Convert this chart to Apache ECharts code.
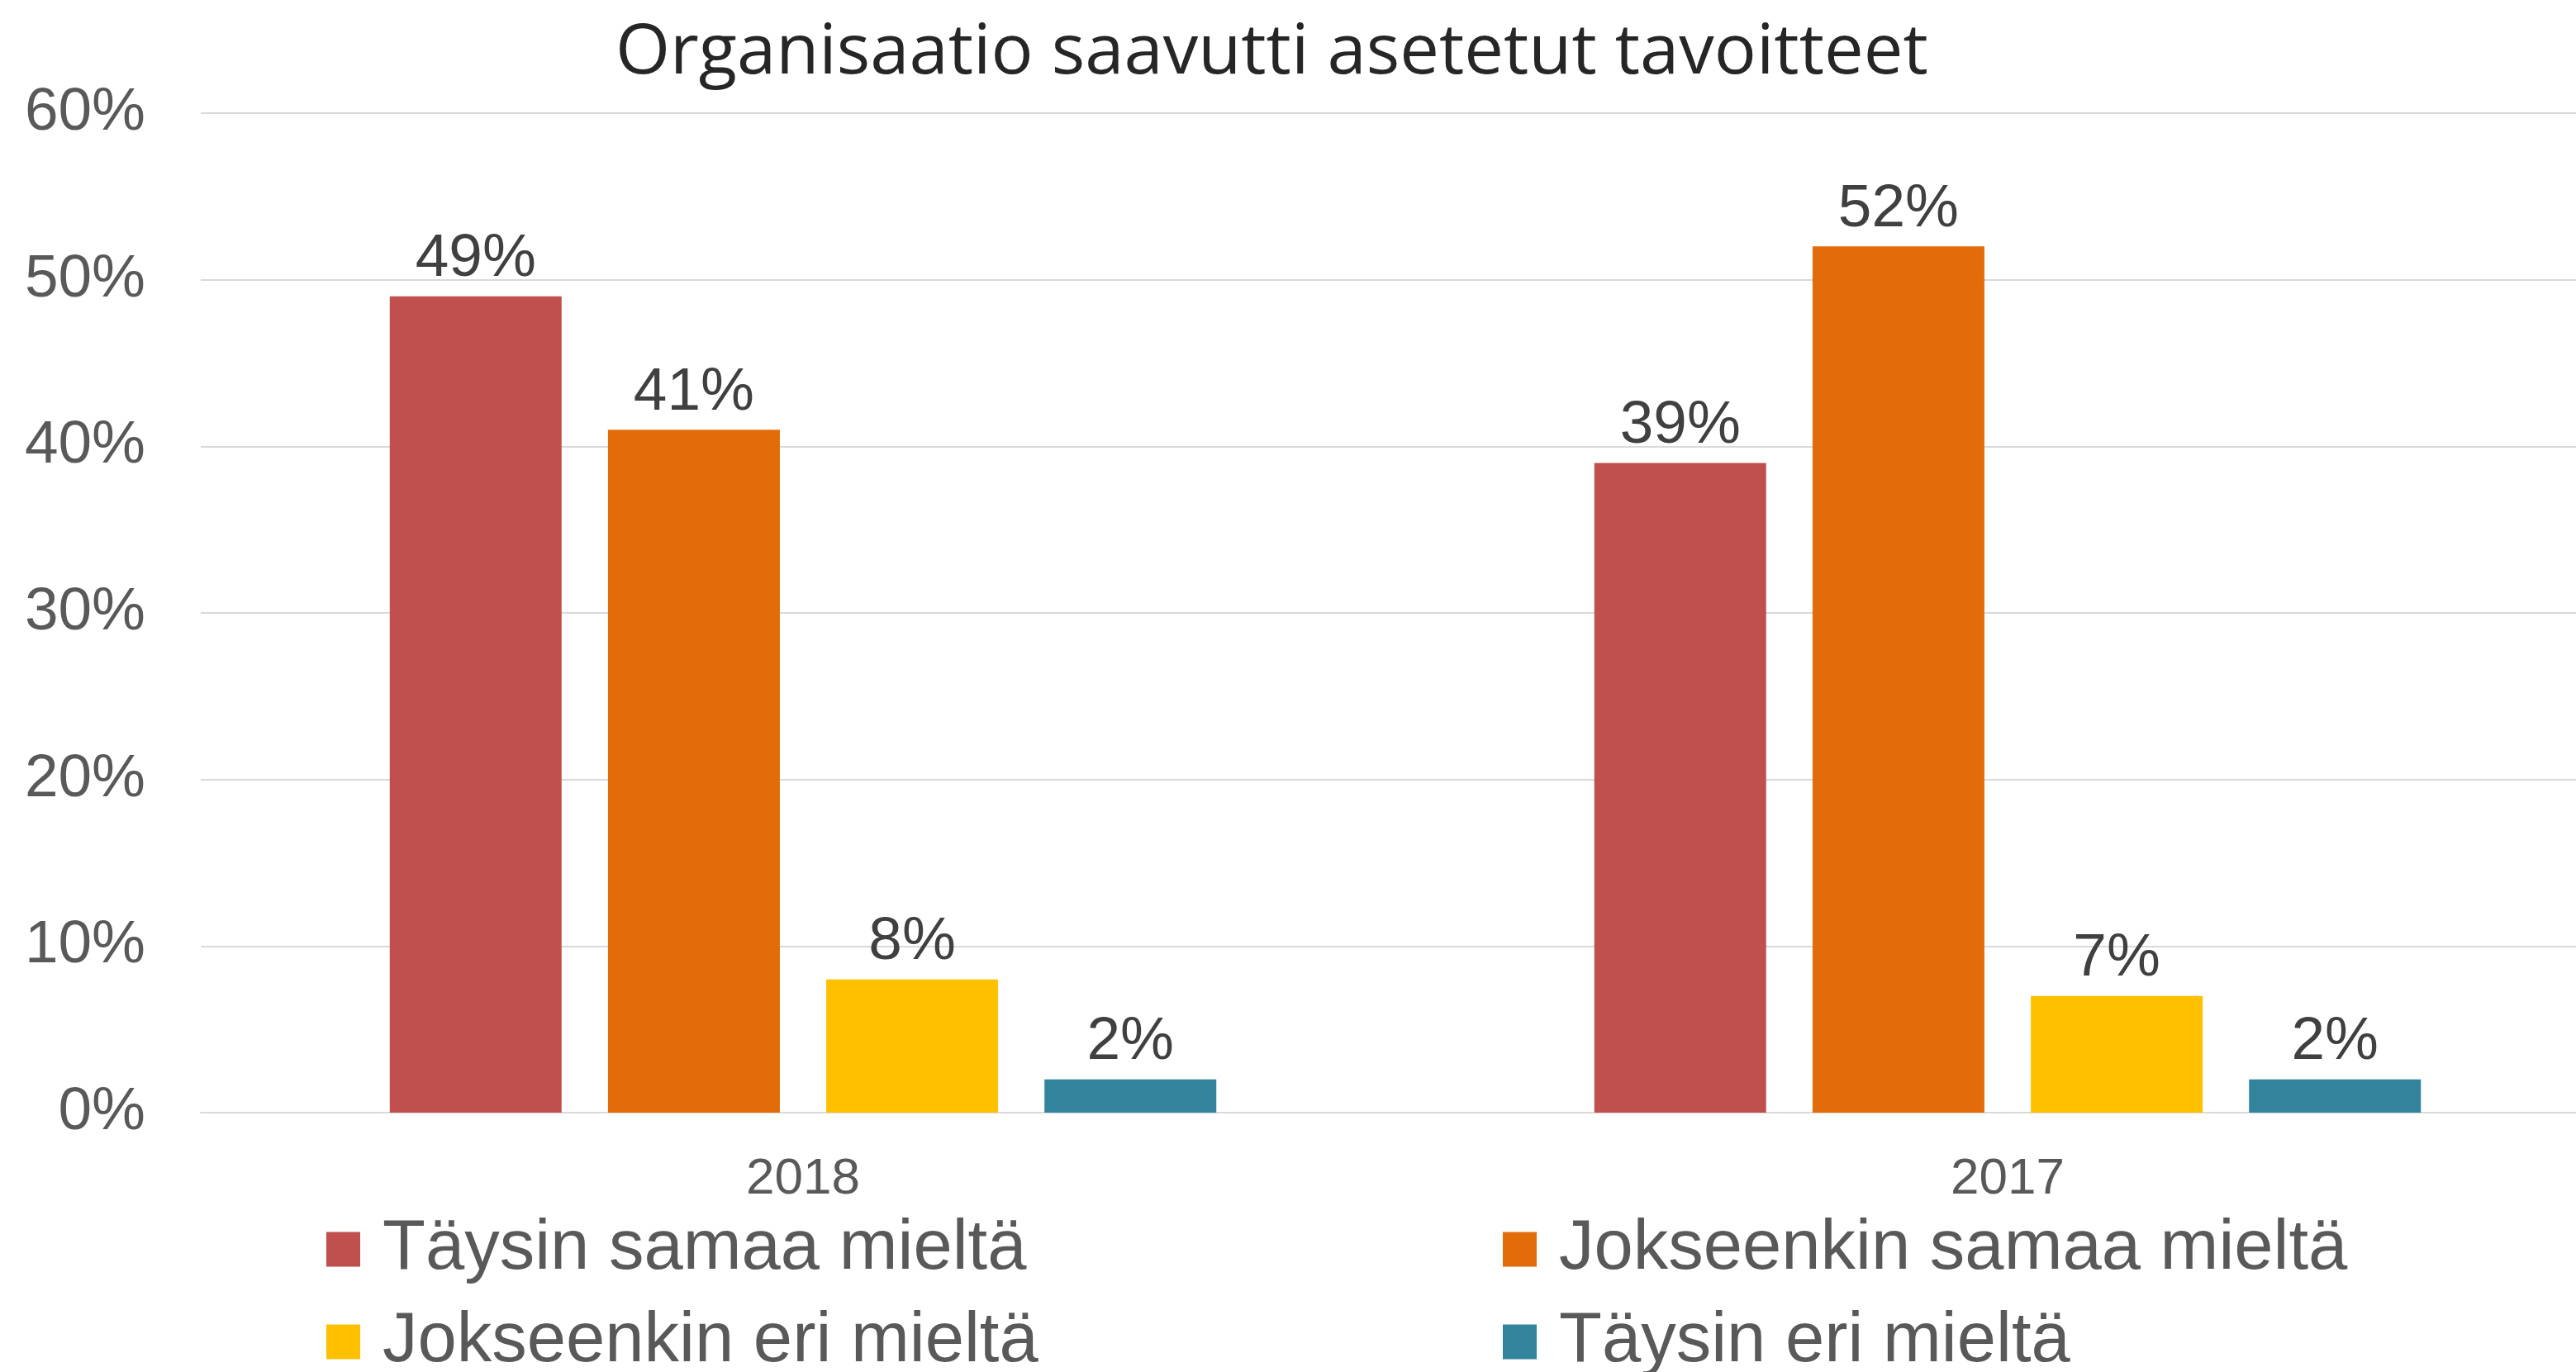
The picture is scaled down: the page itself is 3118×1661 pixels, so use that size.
<!DOCTYPE html>
<html>
<head>
<meta charset="utf-8">
<script src="https://cdn.jsdelivr.net/npm/echarts@6/dist/echarts.min.js"></script>
<style>
html,body{margin:0;padding:0;background:#fff;overflow:hidden;}
#chart{width:3118px;height:1661px;}
</style>
</head>
<body>
<div id="chart"></div>
<script>
const titleText = 'Organisaatio saavutti asetetut tavoitteet';
const categories = ['2018', '2017'];
const seriesNames = ['Täysin samaa mieltä', 'Jokseenkin samaa mieltä', 'Jokseenkin eri mieltä', 'Täysin eri mieltä'];
const taysinSamaa = [49, 39];
const jokseenkinSamaa = [41, 52];
const jokseenkinEri = [8, 7];
const taysinEri = [2, 2];
const colors = ['#C0504D', '#E36C0A', '#FFC000', '#31849B'];
const yTicks = { min: 0, max: 60, interval: 10 };

const values = [taysinSamaa, jokseenkinSamaa, jokseenkinEri, taysinEri];
const FONT = '"Liberation Sans", Arial, sans-serif';

const chart = echarts.init(document.getElementById('chart'), null, { renderer: 'canvas' });

const legendPos = [
  { left: 395, top: 1470 },
  { left: 1819, top: 1470 },
  { left: 395, top: 1582 },
  { left: 1819, top: 1582 }
];

const option = {
  backgroundColor: '#ffffff',
  animation: false,
  title: {
    text: titleText,
    left: 745,
    top: 22,
    padding: 0,
    textStyle: { fontFamily: '"Open Sans", sans-serif', fontSize: 85, fontWeight: 'normal', color: '#262626' }
  },
  legend: seriesNames.map((n, i) => ({
    data: [n],
    left: legendPos[i].left,
    top: legendPos[i].top,
    padding: 0,
    itemWidth: 41,
    itemHeight: 42,
    icon: 'rect',
    selectedMode: false,
    textStyle: { fontFamily: FONT, fontSize: 85, color: '#595959', padding: [0, 0, 0, 22] }
  })),
  grid: { left: 243, right: -41, top: 137, bottom: 314, containLabel: false, outerBoundsMode: 'none' },
  xAxis: {
    type: 'category',
    data: categories,
    axisLine: { show: true, lineStyle: { color: '#D9D9D9', width: 2 } },
    axisTick: { show: false },
    axisLabel: { fontFamily: FONT, fontSize: 62, color: '#595959', margin: 50 }
  },
  yAxis: {
    type: 'value',
    min: yTicks.min,
    max: yTicks.max,
    interval: yTicks.interval,
    axisLine: { show: false },
    axisTick: { show: false },
    splitLine: { lineStyle: { color: '#D9D9D9', width: 2 } },
    axisLabel: { fontFamily: FONT, fontSize: 73, color: '#595959', margin: 67, formatter: '{value}%' }
  },
  series: seriesNames.map((n, i) => ({
    name: n,
    type: 'bar',
    data: values[i],
    barWidth: 208,
    barGap: '27%',
    itemStyle: { color: colors[i] },
    label: {
      show: true,
      position: 'top',
      distance: 8,
      fontFamily: FONT,
      fontSize: 73,
      color: '#404040',
      formatter: '{c}%'
    }
  }))
};
chart.setOption(option);
</script>
</body>
</html>
